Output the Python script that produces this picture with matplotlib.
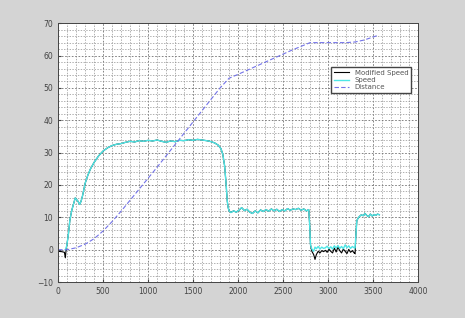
import numpy as np
import matplotlib.pyplot as plt
from matplotlib.ticker import MultipleLocator

# start of the run
t_head = [0, 40, 70, 80, 90]
speed_head = [np.nan, np.nan, np.nan, 0, 0.5]
mod_head = [-0.5, -0.6, -0.8, -2.5, 0.3]

# acceleration and cruise at ~34
t_rise = [100, 115, 130, 150, 170, 190, 205, 220, 240, 255, 270, 285, 300, 330, 360, 400,
          450, 500, 550, 600, 650, 700, 750, 800, 850, 900, 950, 1000, 1050, 1100, 1150,
          1200, 1250, 1300, 1350, 1400, 1450, 1500, 1550, 1600, 1650, 1700, 1740, 1780,
          1810, 1830, 1850, 1865, 1880, 1890, 1900]
speed_rise = [2, 5, 9, 12, 14, 16, 15.5, 15, 14, 15, 16.5, 18.5, 20.5, 23, 25, 27,
              29, 30.5, 31.5, 32.2, 32.6, 32.8, 33.2, 33.5, 33.3, 33.7, 33.5, 33.8, 33.6, 33.9, 33.5,
              33.2, 33.6, 33.4, 33.8, 33.7, 34.0, 33.8, 34.1, 33.9, 33.7, 33.4, 33.0, 32.3,
              31.2, 29.5, 26, 21, 15, 13, 12]

# second plateau ~12
t_mid = [1920, 1950, 1980, 2010, 2040, 2070, 2100, 2130, 2160, 2190, 2220, 2250, 2280, 2310,
         2340, 2370, 2400, 2430, 2460, 2490, 2520, 2550, 2580, 2610, 2640, 2670, 2700, 2730,
         2760, 2785]
speed_mid = [11.5, 12, 11.6, 12.2, 13, 12.1, 12.5, 11.6, 11.2, 12, 11.4, 12.3, 11.8, 12.4,
             11.9, 12.6, 12.0, 12.5, 11.8, 12.4, 12.0, 12.7, 12.2, 12.6, 12.4, 12.8, 12.2, 12.6,
             12.0, 12.4]

# stopped
t_stop = [2795, 2805, 2820, 2840, 2855, 2870, 2890, 2910, 2930, 2950, 2970, 2990, 3010, 3030,
          3050, 3070, 3090, 3110, 3130, 3150, 3170, 3190, 3210, 3230, 3250, 3270, 3290, 3300]
speed_stop = [8, 1.5, 0.2, -0.5, 0.8, 0.3, 1.0, 0.2, 0.8, 0.4, 0.6, 1.1, 0.3, 0.9,
              0.2, 1.2, 0.5, 1.3, 0.4, 1.0, 0.3, 1.5, 0.6, 1.2, 0.4, 1.0, 0.6, 0.5]
mod_stop = [8, 1.5, -0.5, -1.5, -3.0, -1.5, -0.5, -1.0, -0.3, -0.6, -0.2, -0.8, 0.2, -0.5,
            -1.0, 0.5, -0.7, 0.8, -0.3, -1.0, 0.2, -0.5, -1.2, 0.1, -0.8, -0.3, -1.0, -1.2]

# moving again
t_end = [3310, 3320, 3335, 3350, 3370, 3390, 3410, 3430, 3450, 3470, 3490, 3510, 3530, 3550, 3570]
speed_end = [5, 9, 9.8, 10.3, 10.8, 10.5, 11.2, 10.6, 10.2, 11.0, 10.4, 10.9, 10.6, 11.0, 10.8]

t_dist = [0, 100, 200, 300, 400, 500, 600, 700, 800, 900, 1000, 1100, 1200, 1300, 1400,
          1500, 1600, 1700, 1800, 1900, 2000, 2200, 2400, 2600, 2800, 3000, 3200, 3300,
          3400, 3550]
distance = [0, 0, 0.6, 1.7, 3.4, 5.8, 8.7, 11.9, 15.3, 18.7, 22.1, 25.5, 29.0, 32.5, 36.0,
            39.5, 43.0, 46.5, 50.0, 53.0, 54.2, 56.7, 59.2, 61.7, 64.0, 64.0, 64.0, 64.2,
            64.8, 66.2]

t = t_head + t_rise + t_mid + t_stop + t_end
speed = speed_head + speed_rise + speed_mid + speed_stop + speed_end
mod_speed = mod_head + speed_rise + speed_mid + mod_stop + speed_end

fig = plt.figure(figsize=(4.65, 3.18), dpi=100, facecolor='#d4d4d4')
ax = fig.add_axes([0.125, 0.113, 0.774, 0.814])

ax.plot(t, mod_speed, color='black', lw=0.8, label='Modified Speed')
ax.plot(t, speed, color='#4ee6e6', lw=1.0, label='Speed')
ax.plot(t_dist, distance, color='#7373e8', lw=0.8, ls=(0, (4, 2)), label='Distance')

ax.set_xlim(0, 4000)
ax.set_ylim(-10, 70)
ax.xaxis.set_major_locator(MultipleLocator(500))
ax.yaxis.set_major_locator(MultipleLocator(10))
ax.xaxis.set_minor_locator(MultipleLocator(100))
ax.yaxis.set_minor_locator(MultipleLocator(2))
ax.grid(which='major', color='#707070', ls=(0, (2, 2)), lw=0.6)
ax.grid(which='minor', color='#909090', ls=(0, (2, 2)), lw=0.5)
ax.tick_params(which='both', direction='in', labelsize=5.5, labelcolor='#444444',
               color='#444444', length=2)
ax.tick_params(which='minor', length=0)
for s in ax.spines.values():
    s.set_color('#444444')
    s.set_linewidth(0.7)

leg = ax.legend(loc='upper right', bbox_to_anchor=(0.99, 0.845), fontsize=5,
                fancybox=False, framealpha=1, borderpad=0.4, handlelength=2.2,
                labelspacing=0.2, edgecolor='#444444')
for txt in leg.get_texts():
    txt.set_color('#555555')

fig.savefig('out.png', dpi=100, facecolor=fig.get_facecolor())
